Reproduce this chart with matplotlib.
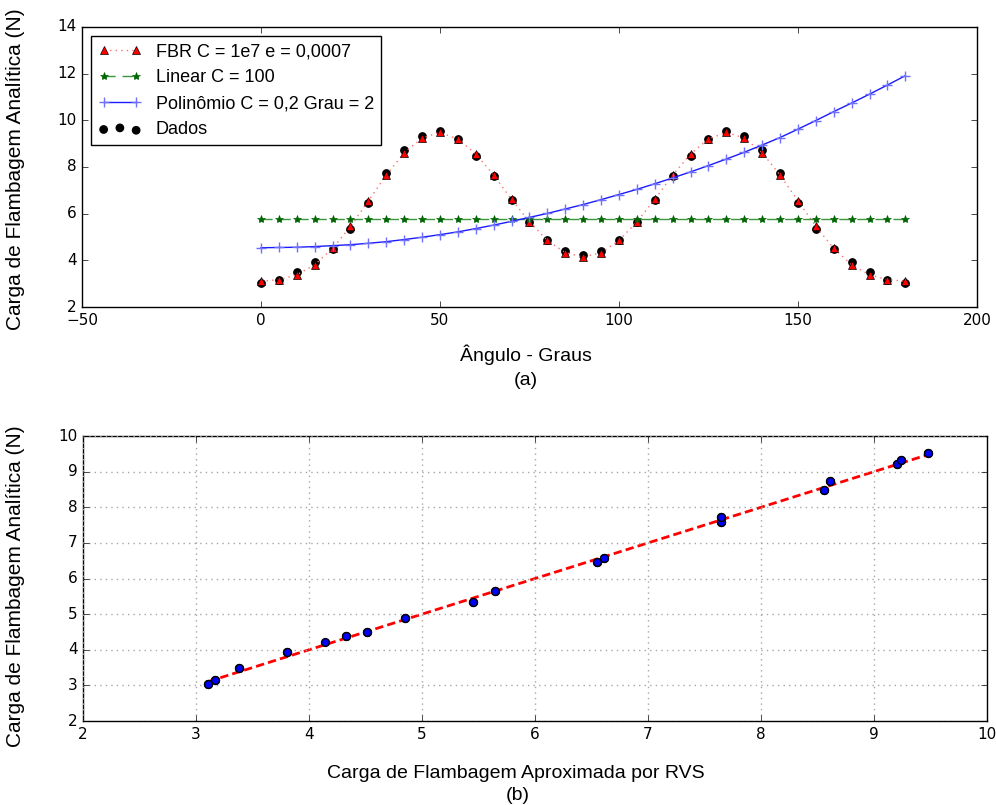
import matplotlib
matplotlib.use("Agg")
import matplotlib.pyplot as plt

# angles (graus)
angulos = [0, 5, 10, 15, 20, 25, 30, 35, 40, 45, 50, 55, 60, 65, 70, 75, 80, 85, 90,
           95, 100, 105, 110, 115, 120, 125, 130, 135, 140, 145, 150, 155, 160, 165, 170, 175, 180]

# dados analiticos
dados = [3.03, 3.14, 3.50, 3.94, 4.50, 5.34, 6.46, 7.72, 8.74, 9.33, 9.53, 9.21, 8.49, 7.60, 6.58, 5.65, 4.89, 4.40, 4.23,
         4.40, 4.89, 5.65, 6.58, 7.60, 8.49, 9.21, 9.53, 9.33, 8.74, 7.72, 6.46, 5.34, 4.50, 3.94, 3.50, 3.14, 3.03]

# aproximacao FBR
fbr = [3.11, 3.17, 3.38, 3.81, 4.51, 5.45, 6.55, 7.65, 8.61, 9.24, 9.48, 9.20, 8.56, 7.65, 6.61, 5.65, 4.85, 4.33, 4.14,
       4.33, 4.85, 5.65, 6.61, 7.65, 8.56, 9.20, 9.48, 9.24, 8.61, 7.65, 6.55, 5.45, 4.51, 3.81, 3.38, 3.17, 3.11]

# aproximacao linear
linear = [5.76] * 37

# aproximacao polinomial
poli = [4.54, 4.55, 4.56, 4.59, 4.63, 4.67, 4.73, 4.80, 4.89, 4.99, 5.10, 5.22, 5.36, 5.51, 5.67, 5.84, 6.01, 6.20, 6.39,
        6.60, 6.82, 7.04, 7.28, 7.53, 7.79, 8.06, 8.34, 8.63, 8.94, 9.26, 9.62, 9.99, 10.37, 10.74, 11.12, 11.51, 11.91]

plt.style.use('classic')
labelFont = 'Liberation Sans'
tickSize = 11

fig = plt.figure(figsize=(9.96, 8.05), dpi=100, facecolor='white')

#---- grafico (a)
ax1 = fig.add_axes([0.0823, 0.6186, 0.8986, 0.348])
ax1.plot(angulos, fbr, marker='^', linestyle=':', color='#ff7070', markerfacecolor='r',
         markersize=6, markeredgecolor='k', label='FBR C = 1e7 e = 0,0007')
ax1.plot(angulos, linear, marker='*', linestyle='--', color='#3c963c', markerfacecolor='#006400',
         markeredgecolor='#006400', markersize=6, dashes=(8, 5), label='Linear C = 100')
ax1.plot(angulos, poli, marker='+', linestyle='-', color='#1a1aff', markeredgecolor='#7070ff',
         markersize=7, markeredgewidth=1, label=u'Polinômio C = 0,2 Grau = 2')
ax1.scatter(angulos, dados, s=28, c='k', edgecolors='k', label='Dados')
ax1.set_xlim(-50, 200)
ax1.set_ylim(2, 14)
ax1.tick_params(labelsize=tickSize)
leg = ax1.legend(loc='upper left', prop={'family': labelFont, 'size': 13},
                 borderaxespad=0.5, handlelength=2.4, labelspacing=0.5, fancybox=False)
leg.get_frame().set_linewidth(1)

#---- grafico (b)
ax2 = fig.add_axes([0.0833, 0.1043, 0.9076, 0.3540])
ax2.scatter(fbr, dados, s=32, c='b', edgecolors='k', zorder=3)
lo, hi = min(fbr), max(fbr)
ax2.plot([lo, hi], [lo, hi], 'r--', lw=2, dashes=(6, 3), zorder=2)
ax2.set_xlim(2, 10)
ax2.set_ylim(2, 10)
ax2.grid(True, linestyle=':', color='0.65', linewidth=1)
ax2.tick_params(labelsize=tickSize)

# rotulos
fig.text(0.006, 1 - 169/805., u'Carga de Flambagem Analítica (N)', rotation=90, ha='left', va='center',
         family=labelFont, fontsize=15)
fig.text(0.528, 1 - 355/805., u'Ângulo - Graus', ha='center', va='center', family=labelFont, fontsize=14)
fig.text(0.528, 1 - 380/805., '(a)', ha='center', va='center', family=labelFont, fontsize=14)
fig.text(0.006, 1 - 586/805., u'Carga de Flambagem Analítica (N)', rotation=90, ha='left', va='center',
         family=labelFont, fontsize=15)
fig.text(0.518, 1 - 773/805., 'Carga de Flambagem Aproximada por RVS', ha='center', va='center',
         family=labelFont, fontsize=14)
fig.text(0.520, 1 - 795/805., '(b)', ha='center', va='center', family=labelFont, fontsize=14)

fig.savefig('out.png', dpi=100, facecolor='white')
